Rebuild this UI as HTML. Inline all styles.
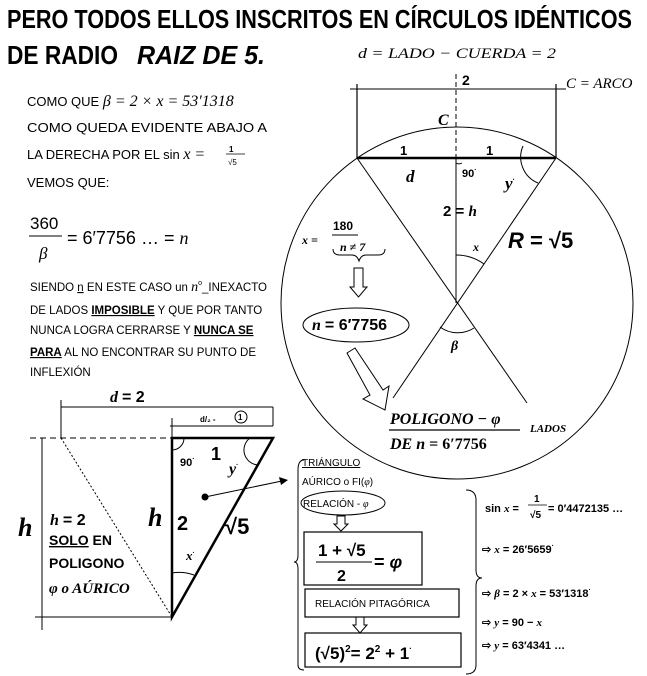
<!DOCTYPE html>
<html><head><meta charset="utf-8"><style>
html,body{margin:0;padding:0;background:#fff}
svg{display:block}
text{font-family:"Liberation Sans",sans-serif;fill:#000}
.s{font-family:"Liberation Serif",serif;font-style:italic}
.sb{font-family:"Liberation Serif",serif;font-style:italic;font-weight:bold}
.t{font-family:"Liberation Sans Narrow","Liberation Sans",sans-serif;font-weight:bold}
</style></head><body>
<svg width="647" height="676" viewBox="0 0 647 676" xmlns="http://www.w3.org/2000/svg">
<!-- title -->
<text class="t" x="7" y="28" font-size="26" textLength="625" lengthAdjust="spacingAndGlyphs">PERO TODOS  ELLOS  INSCRITOS  EN  CÍRCULOS  IDÉNTICOS</text>
<text class="t" x="7" y="64" font-size="26" textLength="111" lengthAdjust="spacingAndGlyphs">DE RADIO</text>
<text class="t" x="137" y="64" font-size="26" font-style="italic" textLength="128" lengthAdjust="spacingAndGlyphs">RAIZ DE 5.</text>
<text class="s" x="358" y="58" font-size="15" textLength="198" lengthAdjust="spacingAndGlyphs">d = LADO − CUERDA = 2</text>

<!-- left text -->
<g font-size="13">
<text x="27" y="106">COMO QUE <tspan class="s" font-size="16">β = 2 × x = 53′1318</tspan></text>
<text x="27" y="132" textLength="240" lengthAdjust="spacingAndGlyphs">COMO QUEDA EVIDENTE ABAJO A</text>
<text x="27" y="159">LA DERECHA POR EL sin <tspan class="s" font-size="16">x =</tspan></text>
<text x="229" y="152" font-size="8" font-weight="bold">1</text>
<line x1="226" y1="154" x2="245" y2="154" stroke="#000" stroke-width="0.8"/>
<text x="228" y="165" font-size="8">√5</text>
<text x="27" y="187">VEMOS QUE:</text>
</g>
<text x="30" y="229" font-size="17">360</text>
<line x1="29" y1="236" x2="62" y2="236" stroke="#000" stroke-width="1"/>
<text class="s" x="39" y="259" font-size="17">β</text>
<text x="67" y="244" font-size="18">= 6′7756 … = <tspan class="s">n</tspan></text>
<g font-size="11.5">
<text x="30" y="291">SIENDO <tspan text-decoration="underline">n</tspan> EN ESTE CASO un <tspan class="s" font-size="14">n</tspan><tspan font-size="7" dy="-6">o</tspan><tspan dy="6">_INEXACTO</tspan></text>
<text x="30" y="314">DE LADOS <tspan font-weight="bold" text-decoration="underline">IMPOSIBLE</tspan> Y QUE POR TANTO</text>
<text x="30" y="334">NUNCA LOGRA CERRARSE Y <tspan font-weight="bold" text-decoration="underline">NUNCA SE</tspan></text>
<text x="30" y="356"><tspan font-weight="bold" text-decoration="underline">PARA</tspan> AL NO ENCONTRAR SU PUNTO DE</text>
<text x="30" y="376">INFLEXIÓN</text>
</g>

<!-- circle diagram -->
<g stroke="#000" fill="none">
<circle cx="457" cy="303" r="176" stroke-width="1"/>
<line x1="350" y1="89" x2="566" y2="89" stroke-width="1"/>
<line x1="357" y1="84" x2="357" y2="158" stroke-width="1.2"/>
<line x1="556" y1="84" x2="556" y2="158" stroke-width="1.2"/>
<line x1="357" y1="158" x2="556" y2="158" stroke-width="2.5"/>
<line x1="456" y1="74" x2="456" y2="158" stroke-width="1" stroke-dasharray="5,3"/>
<line x1="456" y1="158" x2="456" y2="303" stroke-width="1"/>
<line x1="357" y1="158" x2="527" y2="403" stroke-width="1"/>
<line x1="556" y1="158" x2="393" y2="398" stroke-width="1"/>
<path d="M456,163 A6,6 0 0 0 462,163" stroke-width="1"/>
<path d="M523,146 A28,28 0 0 0 538,183" stroke-width="1"/>
<path d="M456,255 A48,48 0 0 1 484,264" stroke-width="1"/>
<path d="M440,327 A30,30 0 0 0 474,328" stroke-width="1"/>
<path d="M333,249 Q333,255 340,255 L352,255 Q357,255 359,261 Q361,255 366,255 L378,255 Q385,255 385,249" stroke-width="1"/>
<path d="M354,268 L363,268 L363,287 L367,287 L358.5,297 L350,287 L354,287 Z" stroke-width="1"/>
<ellipse cx="356" cy="325" rx="53" ry="17" stroke-width="1"/>
<path d="M347,353 L355,348 L383,390 L389,386 L385,410 L363,399 L370,395 Z" stroke-width="1"/>
</g>
<text x="462" y="85" font-size="14" font-weight="bold">2</text>
<text class="s" x="566" y="88" font-size="15">C = ARCO</text>
<text class="sb" x="438" y="125" font-size="16">C</text>
<text x="400" y="155" font-size="13" font-weight="bold">1</text>
<text x="486" y="155" font-size="13" font-weight="bold">1</text>
<text class="sb" x="406" y="182" font-size="17">d</text>
<text x="462" y="177" font-size="11" font-weight="bold">90<tspan font-size="7" dy="-5">·</tspan></text>
<text class="sb" x="505" y="189" font-size="17">y<tspan font-size="8" dy="-7">·</tspan></text>
<text x="443" y="216" font-size="15" font-weight="bold">2 = <tspan class="sb">h</tspan></text>
<text class="s" x="473" y="251" font-size="12" font-weight="bold">x</text>
<text x="508" y="248" font-size="22" font-weight="bold" font-family="Liberation Serif, serif"><tspan font-style="italic">R</tspan> = √5</text>
<text class="sb" x="302" y="244" font-size="12">x =</text>
<text x="333" y="230" font-size="12" font-weight="bold">180</text>
<line x1="332" y1="235" x2="358" y2="235" stroke="#000" stroke-width="1"/>
<text class="sb" x="340" y="251" font-size="12">n ≠ 7</text>
<text class="sb" x="312" y="330" font-size="16">n <tspan font-style="normal" font-family="Liberation Sans">= 6′7756</tspan></text>
<text class="sb" x="451" y="350" font-size="14">β</text>
<text class="sb" x="390" y="424" font-size="16">POLIGONO − φ</text>
<line x1="389" y1="430" x2="520" y2="430" stroke="#000" stroke-width="1.2"/>
<text class="sb" x="390" y="449" font-size="16">DE  n <tspan font-style="normal">= 6′7756</tspan></text>
<text class="sb" x="530" y="432" font-size="11">LADOS</text>

<!-- bottom-left diagram -->
<g stroke="#000" fill="none">
<line x1="61" y1="407" x2="273" y2="407" stroke-width="1"/>
<line x1="273" y1="407" x2="273" y2="426" stroke-width="1"/>
<line x1="170" y1="426" x2="273" y2="426" stroke-width="1"/>
<line x1="61" y1="400" x2="61" y2="438" stroke-width="1"/>
<line x1="172" y1="418" x2="172" y2="438" stroke-width="1"/>
<line x1="30" y1="438" x2="172" y2="438" stroke-width="1" stroke-dasharray="6,4"/>
<path d="M172,438 L273,438 L172,617 Z" stroke-width="2.5"/>
<line x1="42" y1="438" x2="42" y2="630" stroke-width="1"/>
<line x1="35" y1="617" x2="173" y2="617" stroke-width="1"/>
<line x1="61" y1="438" x2="172" y2="617" stroke-width="1" stroke-dasharray="2,2"/>
<path d="M172,450 A12,12 0 0 0 184,438" stroke-width="1"/>
<path d="M250,438 A15,15 0 0 0 258,465" stroke-width="1"/>
<path d="M172,573 A44,44 0 0 1 194,575" stroke-width="1"/>
<line x1="205" y1="497" x2="282" y2="481" stroke-width="1"/>
<circle cx="241" cy="417" r="6" stroke-width="1"/>
</g>
<path d="M288,480 L279,477 L281,485 Z" fill="#000"/>
<circle cx="205" cy="497" r="3.5" fill="#000"/>
<text class="sb" x="110" y="402" font-size="16">d <tspan font-style="normal" font-family="Liberation Sans">= 2</tspan></text>
<text x="200" y="422" font-size="8" font-weight="bold">d/₂ -</text>
<text x="238" y="420" font-size="8" font-weight="bold">1</text>
<text x="180" y="466" font-size="11" font-weight="bold">90<tspan font-size="7" dy="-5">·</tspan></text>
<text x="211" y="460" font-size="18" font-weight="bold">1</text>
<text class="sb" x="229" y="474" font-size="16">y<tspan font-size="7" dy="-7">·</tspan></text>
<text class="sb" x="148" y="526" font-size="26">h</text>
<text x="177" y="530" font-size="20" font-weight="bold">2</text>
<text x="225" y="534" font-size="22" font-weight="bold" font-family="Liberation Serif, serif">√5</text>
<text class="sb" x="186" y="560" font-size="13">x<tspan font-size="7" dy="-5">·</tspan></text>
<text class="sb" x="18" y="536" font-size="26">h</text>
<text class="sb" x="50" y="525" font-size="16">h <tspan font-style="normal" font-family="Liberation Sans">= 2</tspan></text>
<text x="49" y="545" font-size="14" font-weight="bold"><tspan text-decoration="underline">SOLO</tspan> EN</text>
<text x="49" y="568" font-size="14" font-weight="bold">POLIGONO</text>
<text class="sb" x="49" y="593" font-size="15">φ o AÚRICO</text>

<!-- right chain -->
<g stroke="#000" fill="none">
<path d="M304,460 Q298,460 298,470 L298,555 Q298,562 294,562 Q298,562 298,569 L298,665 Q298,670 304,670" stroke-width="1"/>
<ellipse cx="343" cy="503" rx="42" ry="12" stroke-width="1"/>
<path d="M337,516 L345,516 L345,524 L348,524 L341,531 L334,524 L337,524 Z" stroke-width="1"/>
<rect x="304" y="532" width="118" height="53" stroke-width="1.2"/>
<rect x="305" y="589" width="154" height="28" stroke-width="1.2"/>
<path d="M356,617 L364,617 L364,625 L367,625 L360,633 L353,625 L356,625 Z" stroke-width="1"/>
<rect x="305" y="633" width="156" height="34" stroke-width="1.2"/>
<path d="M466,490 Q476,490 476,500 L476,570 Q476,578 482,578 Q476,578 476,586 L476,665 Q476,674 466,674" stroke-width="1"/>
</g>
<text x="302" y="466" font-size="10" text-decoration="underline">TRIÁNGULO</text>
<text x="302" y="485" font-size="10">AÚRICO o FI(<tspan class="s">φ</tspan>)</text>
<text x="303" y="507" font-size="10">RELACIÓN - <tspan class="s">φ</tspan></text>
<text x="318" y="556" font-size="17" font-weight="bold" font-family="Liberation Serif, serif">1 + √5</text>
<line x1="316" y1="562" x2="372" y2="562" stroke="#000" stroke-width="1"/>
<text x="337" y="581" font-size="16" font-weight="bold">2</text>
<text x="374" y="568" font-size="18" font-weight="bold" font-family="Liberation Serif, serif">= <tspan font-style="italic">φ</tspan></text>
<text x="315" y="607" font-size="10">RELACIÓN PITAGÓRICA</text>
<text x="315" y="659" font-size="17" font-weight="bold" font-family="Liberation Serif, serif">(√5)<tspan font-size="10" dy="-7">2</tspan><tspan dy="7">= 2</tspan><tspan font-size="10" dy="-7">2</tspan><tspan dy="7"> +  1</tspan><tspan font-size="8" dy="-8">·</tspan></text>

<g font-size="11" font-weight="bold">
<text x="485" y="512">sin <tspan class="s">x</tspan> =</text>
<text x="534" y="502" font-size="10">1</text>
<line x1="528" y1="505" x2="547" y2="505" stroke="#000" stroke-width="0.8"/>
<text x="530" y="518" font-size="10">√5</text>
<text x="548" y="512">= 0′4472135 …</text>
<text x="482" y="553">⇨ <tspan class="s">x</tspan> = 26′5659<tspan font-size="7" dy="-5">·</tspan></text>
<text x="482" y="597">⇨ <tspan class="s">β</tspan> = 2 × <tspan class="s">x</tspan> = 53′1318<tspan font-size="7" dy="-5">·</tspan></text>
<text x="482" y="626">⇨  <tspan class="s">y</tspan> = 90 − <tspan class="s">x</tspan></text>
<text x="482" y="649">⇨ <tspan class="s">y</tspan> = 63′4341 …</text>
</g>
</svg>
</body></html>
